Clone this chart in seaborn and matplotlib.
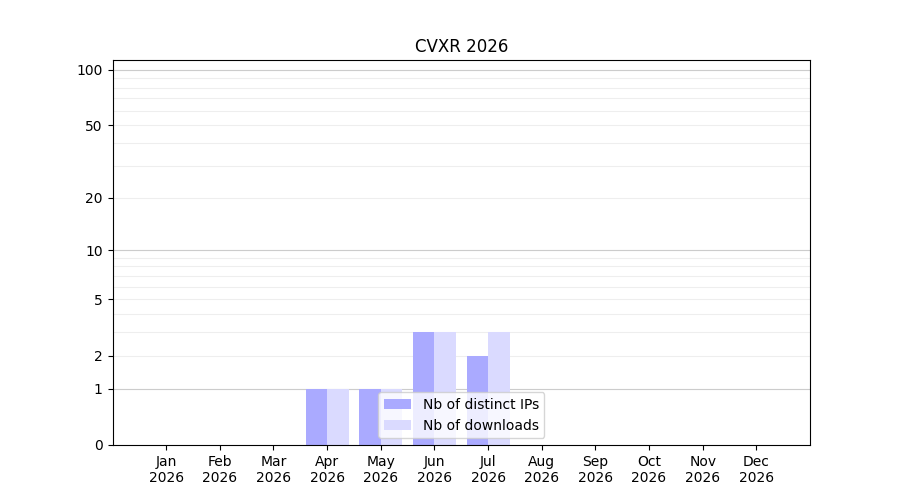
import numpy as np
import pandas as pd
import matplotlib
matplotlib.use('Agg')
import matplotlib.pyplot as plt
import seaborn as sns

months = ['Jan', 'Feb', 'Mar', 'Apr', 'May', 'Jun', 'Jul', 'Aug', 'Sep', 'Oct', 'Nov', 'Dec']
year = 2026
distinct_ips = [0, 0, 0, 1, 1, 3, 2, 0, 0, 0, 0, 0]
downloads = [0, 0, 0, 1, 1, 3, 3, 0, 0, 0, 0, 0]
y_ticks = [0, 1, 2, 5, 10, 20, 50, 100]

labels = [f'{m}\n{year}' for m in months]
df = pd.DataFrame({
    'month': labels * 2,
    'value': distinct_ips + downloads,
    'series': ['Nb of distinct IPs'] * 12 + ['Nb of downloads'] * 12,
})

fig, ax = plt.subplots(figsize=(9, 5), dpi=100)
sns.barplot(data=df, x='month', y='value', hue='series',
            palette=['#aaaaff', '#dadaff'], errorbar=None,
            saturation=1, width=0.8, ax=ax)

# echelle log(1 + x) pour garder le zero
ax.set_yscale('function', functions=(lambda v: np.log10(np.maximum(v, 0) + 1),
                                     lambda v: 10 ** v - 1))
ax.set_ylim(0, 113)
ax.set_xlim(-1, 12)

ax.yaxis.remove_overlapping_locs = False
ax.set_yticks(y_ticks)
ax.set_yticklabels([str(t) for t in y_ticks])
minor = list(range(1, 10)) + list(range(10, 101, 10))
ax.set_yticks(minor, minor=True)
ax.tick_params(axis='y', which='minor', length=0)
ax.yaxis.grid(True, which='minor', color='#eeeeee', linewidth=0.8)
for v in [1, 10, 100]:
    ax.axhline(v, color='#cccccc', linewidth=0.8, zorder=0.6)
ax.set_axisbelow(True)

ax.set_xlabel('')
ax.set_ylabel('')
ax.set_title(f'CVXR {year}')
ax.legend(loc='lower center', title=None)

fig.subplots_adjust(left=0.125, right=0.9, top=0.88, bottom=0.11)
fig.savefig('out.png', dpi=100)
